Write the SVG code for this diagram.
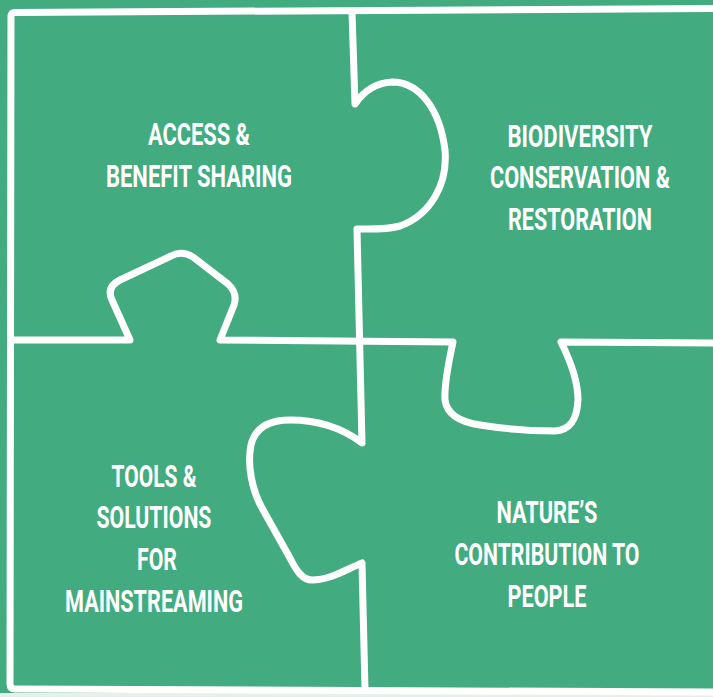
<svg xmlns="http://www.w3.org/2000/svg" width="713" height="697" viewBox="0 0 713 697">
  <style>
    .cut { fill: none; stroke: #ffffff; stroke-width: 7; stroke-linecap: round; stroke-linejoin: round; }
    .label { fill: #ffffff; font-family: Roboto, "Liberation Sans", sans-serif; font-weight: 700; font-size: 32px; text-anchor: middle; }
  </style>
  <rect x="0" y="0" width="713" height="697" fill="#42ab7f"/>
  <rect x="0" y="693" width="713" height="4" fill="#ffffff" opacity="0.85"/>

  <!-- puzzle cut lines -->
  <g id="connectors">
    <!-- outer frame: top, left, bottom -->
    <path class="cut" d="M713,8.5 L15,12.5 Q11,12.5 11,17 L10,684 Q10,689 15,689 L713,692"/>
    <!-- horizontal seam with upward tab and downward U -->
    <path class="cut" d="M13,340 L130,340 L112,300 Q106,287 120,280 L171,256 Q182,250 193,257 L228,284 Q238,293 234,305 L220,340 L453,342 C448,365 444,385 445,400 C447,415 460,422 480,425 C505,429 530,431 555,431 C570,430 577,420 578,400 C578,380 570,360 561,342 L713,343"/>
    <!-- vertical seam with rightward knob and leftward bulge -->
    <path class="cut" d="M352,12 L355,104 C363,92 375,83 392,82 C420,82 440,110 445,150 C448,185 430,215 400,226 C385,230 370,229 357,229 L362,443 C345,430 320,420 290,420 C268,420 255,428 251,445 C247,465 252,490 262,508 L290,558 C297,572 303,580 312,580 C330,580 345,570 362,563 L365,690"/>
  </g>

  <!-- labels are set in a condensed style: each group is squeezed horizontally -->
  <g id="access-benefit-sharing" transform="scale(0.75 1)">
    <text class="label" x="265.3" y="145" textLength="136" lengthAdjust="spacingAndGlyphs">ACCESS &amp;</text>
    <text class="label" x="265.3" y="187" textLength="248" lengthAdjust="spacingAndGlyphs">BENEFIT SHARING</text>
  </g>

  <g id="biodiversity-conservation" transform="scale(0.75 1)">
    <text class="label" x="773.3" y="147" textLength="193.3" lengthAdjust="spacingAndGlyphs">BIODIVERSITY</text>
    <text class="label" x="773.3" y="188" textLength="240" lengthAdjust="spacingAndGlyphs">CONSERVATION &amp;</text>
    <text class="label" x="773.3" y="230" textLength="192" lengthAdjust="spacingAndGlyphs">RESTORATION</text>
  </g>

  <g id="tools-solutions" transform="scale(0.75 1)">
    <text class="label" x="205.3" y="487" textLength="113.3" lengthAdjust="spacingAndGlyphs">TOOLS &amp;</text>
    <text class="label" x="205.3" y="528" textLength="153.3" lengthAdjust="spacingAndGlyphs">SOLUTIONS</text>
    <text class="label" x="209.3" y="570" textLength="53.3" lengthAdjust="spacingAndGlyphs">FOR</text>
    <text class="label" x="205.3" y="612" textLength="237.3" lengthAdjust="spacingAndGlyphs">MAINSTREAMING</text>
  </g>

  <g id="natures-contribution" transform="scale(0.75 1)">
    <text class="label" x="729.3" y="523" textLength="134.7" lengthAdjust="spacingAndGlyphs">NATURE’S</text>
    <text class="label" x="729.3" y="565" textLength="246.7" lengthAdjust="spacingAndGlyphs">CONTRIBUTION TO</text>
    <text class="label" x="729.3" y="607" textLength="105.3" lengthAdjust="spacingAndGlyphs">PEOPLE</text>
  </g>
</svg>
